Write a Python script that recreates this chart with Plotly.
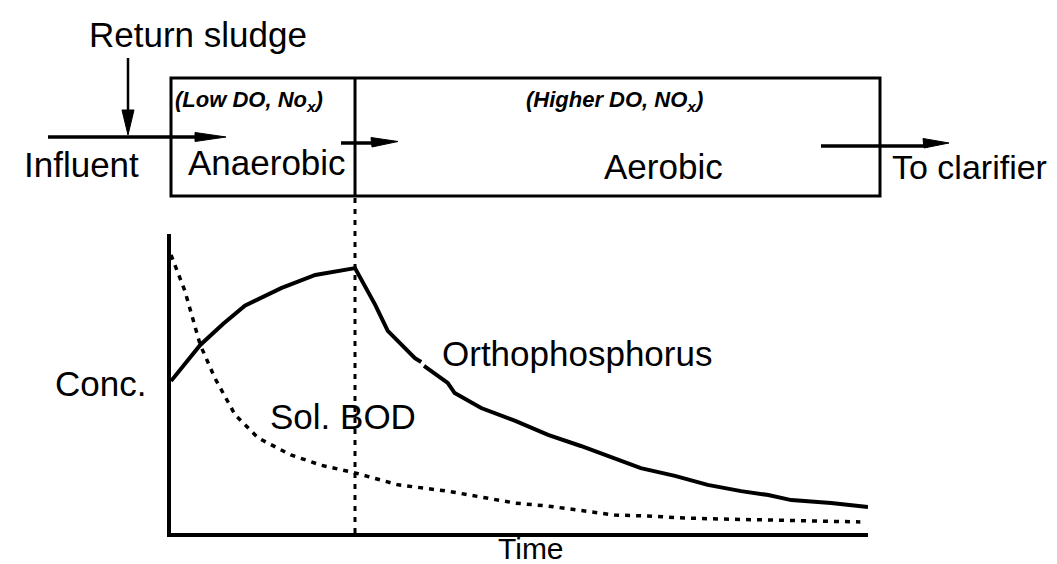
import plotly.graph_objects as go

# ---------------- data ----------------
# Orthophosphorus (solid) : time (0-100) vs concentration (0-100)
ortho_time = [0.0, 4.2, 7.5, 10.6, 15.8, 20.7, 26.4, 29.3, 31.1, 32.6, 35.0, 35.9,
              None,
              36.3, 39.7, 40.7, 44.5, 49.4, 54.1, 58.8, 62.7, 67.4, 72.3, 77.0,
              81.8, 85.7, 89.0, 94.7, 100.0]
ortho_conc = [50.8, 62.9, 70.0, 76.0, 81.9, 86.3, 88.6, 76.3, 67.6, 64.2, 58.5, 57.2,
              None,
              55.9, 50.2, 46.8, 41.8, 37.5, 32.8, 29.1, 25.8, 21.7, 19.1, 16.1,
              14.0, 12.7, 11.0, 10.0, 8.7]

# Soluble BOD (dotted)
bod_time = [0.0, 1.0, 2.0, 4.2, 6.3, 9.2, 12.5, 17.2, 21.5, 26.4, 32.6, 39.7,
            44.5, 49.4, 54.1, 58.8, 63.7, 68.4, 73.7, 78.5, 85.2, 98.9]
bod_conc = [93.0, 87.0, 80.9, 62.9, 51.8, 39.5, 31.8, 26.1, 22.7, 20.1, 16.1, 14.0,
            12.0, 10.0, 9.0, 7.4, 6.0, 5.7, 5.0, 4.7, 4.3, 3.7]

zone_boundary_time = 26.4   # end of anaerobic zone / peak of orthophosphorus

# text labels
labels = {
    "return": "Return sludge",
    "influent": "Influent",
    "anaerobic": "Anaerobic",
    "aerobic": "Aerobic",
    "clarifier": "To clarifier",
    "low": "<b><i>(Low DO, No<sub>x</sub>)</i></b>",
    "high": "<b><i>(Higher DO, NO<sub>x</sub>)</i></b>",
    "conc": "Conc.",
    "time": "Time",
    "bod": "Sol. BOD",
    "ortho": "Orthophosphorus",
}

# ---------------- layout helpers ----------------
W, H = 1057, 564
FONT = "Liberation Sans, Arial, Helvetica, sans-serif"


def px(x):
    return x / W


def py(y):
    return 1 - y / H


fig = go.Figure()

fig.add_trace(go.Scatter(
    x=ortho_time, y=ortho_conc, mode="lines",
    line=dict(color="black", width=4), connectgaps=False,
    showlegend=False, hoverinfo="skip"))

fig.add_trace(go.Scatter(
    x=bod_time, y=bod_conc, mode="lines",
    line=dict(color="black", width=3.5, dash="5px,6px"),
    showlegend=False, hoverinfo="skip"))

shapes = []
# tank box
shapes.append(dict(type="rect", xref="paper", yref="paper",
                   x0=px(163), x1=px(872), y0=py(188), y1=py(70),
                   line=dict(color="black", width=3)))
# zone divider (solid in the tank) and dotted line down through the graph
shapes.append(dict(type="line", xref="x", yref="paper",
                   x0=zone_boundary_time, x1=zone_boundary_time,
                   y0=py(188), y1=py(70), line=dict(color="black", width=3)))
shapes.append(dict(type="line", xref="x", yref="paper",
                   x0=zone_boundary_time, x1=zone_boundary_time,
                   y0=py(525), y1=py(188),
                   line=dict(color="black", width=3, dash="5px,6px")))


def arrow_line(x0, y0, x1, y1, w):
    shapes.append(dict(type="line", xref="paper", yref="paper",
                       x0=px(x0), y0=py(y0), x1=px(x1), y1=py(y1),
                       line=dict(color="black", width=w)))


def tri(pts):
    path = "M " + " L ".join(f"{px(a):.5f},{py(b):.5f}" for a, b in pts) + " Z"
    shapes.append(dict(type="path", xref="paper", yref="paper", path=path,
                       fillcolor="black", line=dict(color="black", width=1)))


# return sludge (down arrow)
arrow_line(120, 50, 120, 106, 2.5)
tri([(114, 102), (126, 102), (120, 127)])
# influent arrow
arrow_line(40, 129, 192, 129, 3.5)
tri([(187, 124.5), (187, 133.5), (218, 129)])
# anaerobic -> aerobic
arrow_line(333, 135, 368, 135, 3.5)
tri([(363, 129.5), (364, 139), (390, 133.5)])
# aerobic -> clarifier
arrow_line(813, 138, 920, 138, 3.5)
tri([(915, 130.5), (916, 140), (941, 135)])

fig.update_layout(shapes=shapes)


def text(key, x, y, size, xanchor="center"):
    fig.add_annotation(xref="paper", yref="paper", x=px(x), y=py(y),
                       text=labels[key], showarrow=False,
                       xanchor=xanchor, yanchor="middle",
                       font=dict(family=FONT, size=size, color="black"))


text("return", 190, 26, 35)
text("influent", 73, 156, 35)
text("anaerobic", 259, 154, 35)
text("aerobic", 655, 158, 35)
text("clarifier", 961, 159, 34)
text("low", 165, 93, 22, xanchor="left")
text("high", 606, 93, 22)
text("conc", 92, 375, 35)
text("time", 523, 540, 30)
text("bod", 335, 408, 35)
text("ortho", 432, 345, 35, xanchor="left")

fig.update_layout(
    width=W, height=H,
    margin=dict(l=0, r=0, t=0, b=0),
    paper_bgcolor="white", plot_bgcolor="white",
    xaxis=dict(domain=[px(163), px(860)], range=[0, 100],
               showline=True, linecolor="black", linewidth=3.5,
               showgrid=False, zeroline=False, showticklabels=False,
               ticks="", fixedrange=True),
    yaxis=dict(domain=[py(525), py(226)], range=[0, 100],
               showline=True, linecolor="black", linewidth=3.5,
               showgrid=False, zeroline=False, showticklabels=False,
               ticks="", fixedrange=True),
    showlegend=False,
)

fig.write_html("out.html", config={"displayModeBar": False})
